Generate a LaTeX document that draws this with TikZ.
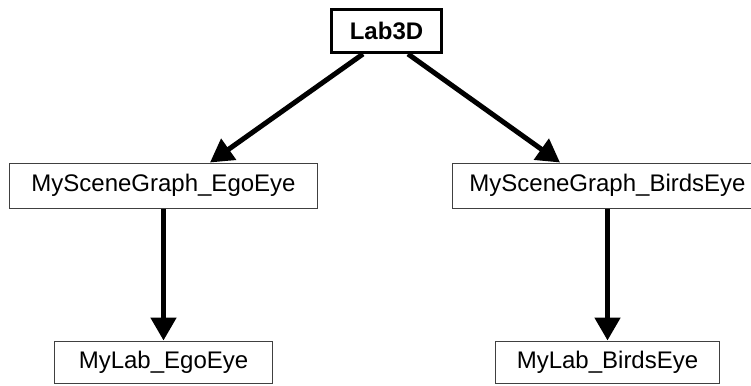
\documentclass[tikz,border=0pt]{standalone}
\usepackage{fontspec}
\setmainfont{Liberation Sans}
\usetikzlibrary{arrows.meta}

\tikzset{
  classbox/.style={draw=black!75, line width=1pt, fill=white, inner sep=0pt,
    minimum height=#1, font=\fontsize{24}{28}\selectfont},
  rootbox/.style={draw=black, line width=3pt, fill=white, inner sep=0pt,
    minimum width=110pt, minimum height=43pt,
    font=\fontsize{24}{28}\selectfont\bfseries},
  link/.style={line width=5pt, -{Triangle[width=25pt,length=23pt]}},
}

\begin{document}
\begin{tikzpicture}[x=1pt, y=-1pt]
  \useasboundingbox (0,0) rectangle (751,385);
  \clip (0,0) rectangle (751,385);

  % class hierarchy
  \node[rootbox] (lab) at (386.5,31) {Lab3D};
  \node[classbox=45pt, minimum width=308pt] (sgego) at (163.5,185.5) {MySceneGraph\_EgoEye};
  \node[classbox=45pt, minimum width=311pt] (sgbirds) at (607.5,185.5) {MySceneGraph\_BirdsEye};
  \node[classbox=42pt, minimum width=218pt] (labego) at (163.5,362) {MyLab\_EgoEye};
  \node[classbox=42pt, minimum width=224pt] (labbirds) at (607.5,362) {MyLab\_BirdsEye};

  % inheritance links
  \draw[link] ([xshift=-23.5pt]lab.south) -- ([xshift=46.5pt]sgego.north);
  \draw[link] ([xshift=21.5pt]lab.south) -- ([xshift=-47.5pt]sgbirds.north);
  \draw[link] (sgego.south) -- (labego.north);
  \draw[link] (sgbirds.south) -- (labbirds.north);
\end{tikzpicture}
\end{document}
